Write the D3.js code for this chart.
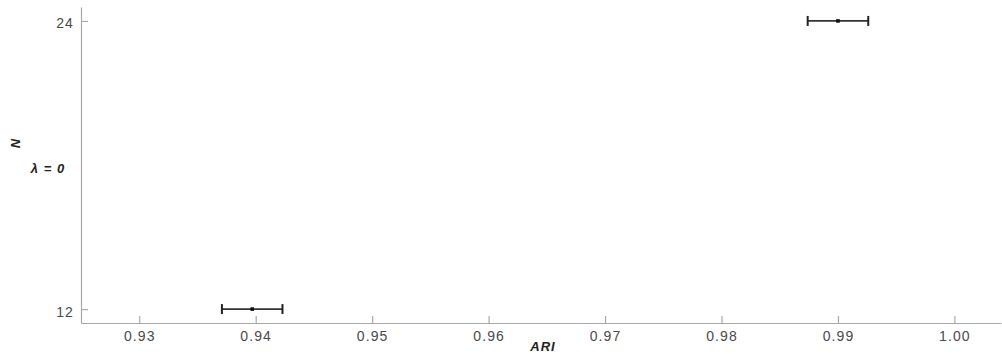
<!DOCTYPE html>
<html>
<head>
<meta charset="utf-8">
<script src="https://cdn.jsdelivr.net/npm/d3@7"></script>
<style>
  body { margin: 0; background: #fff; }
  .axis path, .axis line { stroke: #a8a8a8; stroke-width: 1.2; }
  .axis text { fill: #4a4a4a; font-family: "Liberation Sans", Arial, sans-serif; font-size: 14px; letter-spacing: 1.1px; }
  .lab { font-family: "Liberation Sans", Arial, sans-serif; font-weight: bold; font-style: italic; fill: #222; letter-spacing: 1px; }
</style>
</head>
<body>
<div id="plot"></div>
<script>
// data
var groups = [12, 24];
var means = [0.9397, 0.9900];
var errs = [0.0026, 0.0026];
var xticks = [0.93, 0.94, 0.95, 0.96, 0.97, 0.98, 0.99, 1.00];

var W = 1002, H = 356;

var xscale = d3.scaleLinear().domain([0.925, 1.004]).range([81, 1001]);
var yscale = d3.scaleLinear().domain([11.42, 24.58]).range([323, 7]);

var svg = d3.select('#plot').append('svg')
  .attr('width', W)
  .attr('height', H);

var xaxis = d3.axisBottom(xscale)
  .tickValues(xticks)
  .tickFormat(d3.format('.2f'))
  .tickSizeInner(-7)
  .tickSizeOuter(0)
  .tickPadding(8);

var yaxis = d3.axisLeft(yscale)
  .tickValues(groups)
  .tickSizeInner(-7)
  .tickSizeOuter(0)
  .tickPadding(7);

svg.append('g')
  .attr('class', 'axis')
  .attr('transform', 'translate(0,' + yscale.range()[0] + ')')
  .call(xaxis);

svg.append('g')
  .attr('class', 'axis')
  .attr('transform', 'translate(' + xscale.range()[0] + ',0)')
  .call(yaxis)
  .selectAll('text')
    .attr('dy', '0.5em');

var pts = groups.map(function(g, i) {
  return {n: g, m: means[i], e: errs[i]};
});

var bars = svg.append('g').selectAll('g.bar').data(pts).enter()
  .append('g').attr('class', 'bar');

bars.append('line')
  .attr('x1', function(d) { return xscale(d.m - d.e); })
  .attr('x2', function(d) { return xscale(d.m + d.e); })
  .attr('y1', function(d) { return yscale(d.n); })
  .attr('y2', function(d) { return yscale(d.n); })
  .attr('stroke', '#333').attr('stroke-width', 1.8);

[-1, 1].forEach(function(s) {
  bars.append('line')
    .attr('x1', function(d) { return xscale(d.m + s * d.e); })
    .attr('x2', function(d) { return xscale(d.m + s * d.e); })
    .attr('y1', function(d) { return yscale(d.n) - 5; })
    .attr('y2', function(d) { return yscale(d.n) + 5; })
    .attr('stroke', '#222').attr('stroke-width', 2);
});

bars.append('rect')
  .attr('x', function(d) { return xscale(d.m) - 1.8; })
  .attr('y', function(d) { return yscale(d.n) - 1.8; })
  .attr('width', 3.6).attr('height', 3.6)
  .attr('fill', '#111');

// labels
svg.append('text')
  .attr('class', 'lab')
  .attr('transform', 'translate(20,143) rotate(-90)')
  .attr('text-anchor', 'middle')
  .attr('font-size', 13)
  .text('N');

svg.append('text')
  .attr('class', 'lab')
  .attr('x', 48).attr('y', 173)
  .attr('text-anchor', 'middle')
  .attr('font-size', 13)
  .text('λ = 0');

svg.append('text')
  .attr('class', 'lab')
  .attr('x', 543).attr('y', 351)
  .attr('text-anchor', 'middle')
  .attr('font-size', 13)
  .text('ARI');
</script>
</body>
</html>
